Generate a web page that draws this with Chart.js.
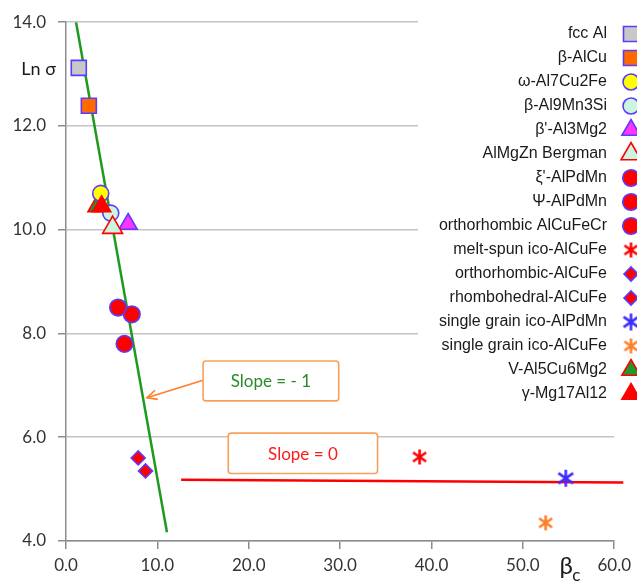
<!DOCTYPE html>
<html>
<head>
<meta charset="utf-8">
<script src="https://cdn.jsdelivr.net/npm/chart.js@4/dist/chart.umd.min.js"></script>
<style>
  html, body { margin: 0; padding: 0; background: #fff; }
  #wrap { width: 637px; height: 585px; }
</style>
</head>
<body>
<div id="wrap"><canvas id="chart" width="637" height="585"></canvas></div>
<script>
// datos
const seriesNames = [
  "fcc Al", "β-AlCu", "ω-Al7Cu2Fe", "β-Al9Mn3Si", "β'-Al3Mg2", "AlMgZn Bergman",
  "ξ'-AlPdMn", "Ψ-AlPdMn", "orthorhombic AlCuFeCr", "melt-spun ico-AlCuFe",
  "orthorhombic-AlCuFe", "rhombohedral-AlCuFe", "single grain ico-AlPdMn",
  "single grain ico-AlCuFe", "V-Al5Cu6Mg2", "γ-Mg17Al12"
];
const betaC   = [1.4, 2.5, 3.8, 4.9, 6.8, 5.1, 5.7, 7.2, 6.4, 38.7, 7.9, 8.7, 54.7, 52.5, 3.4, 3.9];
const lnSigma = [13.12, 12.39, 10.7, 10.32, 10.11, 10.04, 8.5, 8.37, 7.8, 5.62, 5.6, 5.35, 5.21, 4.35, 10.45, 10.45];

// rectas de pendiente
const slopeMinusOneX = [1.1, 11.05];
const slopeMinusOneY = [14.0, 4.17];
const slopeZeroX = [12.6, 61.0];
const slopeZeroY = [5.18, 5.13];

// ticks
const xTicks = [0, 10, 20, 30, 40, 50, 60];
const yTicks = [4, 6, 8, 10, 12, 14];

// cuadros de texto
const boxTexts = ["Slope = - 1", "Slope = 0"];
const boxX = [[15.0, 29.85], [17.76, 34.1]];
const boxY = [[7.47, 6.70], [6.08, 5.30]];
const arrowX = [15.0, 8.86];
const arrowY = [7.10, 6.76];

// ---- estilos ----
const BLUE = "#5a3cff";
function asterisco(color, size) {
  const c = document.createElement("canvas");
  c.width = size + 4; c.height = size + 4;
  const g = c.getContext("2d");
  const m = c.width / 2, h = size / 2;
  g.strokeStyle = color; g.lineWidth = 2.6; g.lineCap = "butt";
  g.beginPath();
  g.moveTo(m, m - h); g.lineTo(m, m + h);
  g.moveTo(m - h * 0.87, m - h * 0.6); g.lineTo(m + h * 0.87, m + h * 0.6);
  g.moveTo(m - h * 0.87, m + h * 0.6); g.lineTo(m + h * 0.87, m - h * 0.6);
  g.stroke();
  return c;
}
const estilos = [
  { shape: "rect", fill: "#c8c8c8", edge: BLUE, r: 10.6 },
  { shape: "rect", fill: "#ff6a00", edge: BLUE, r: 10.6 },
  { shape: "circle", fill: "#ffff00", edge: BLUE, r: 8 },
  { shape: "circle", fill: "#ccf5e0", edge: BLUE, r: 8 },
  { shape: "triangle", fill: "#ff33ff", edge: BLUE, r: 10.5 },
  { shape: "triangle", fill: "#ccf5e0", edge: "#ff0000", r: 11.5, order: -1 },
  { shape: "circle", fill: "#ff0000", edge: BLUE, r: 8.3 },
  { shape: "circle", fill: "#ff0000", edge: BLUE, r: 8.3 },
  { shape: "circle", fill: "#ff0000", edge: BLUE, r: 8.3 },
  { shape: asterisco("#ff0000", 15), fill: "#ff0000", edge: "#ff0000", r: 8 },
  { shape: "rectRot", fill: "#ff0000", edge: BLUE, r: 7 },
  { shape: "rectRot", fill: "#ff0000", edge: BLUE, r: 7 },
  { shape: asterisco("#3d2bff", 17), fill: "#3d2bff", edge: "#3d2bff", r: 8 },
  { shape: asterisco("#ff7f27", 15), fill: "#ff7f27", edge: "#ff7f27", r: 8 },
  { shape: "triangle", fill: "#1e9a2a", edge: "#ff0000", r: 10.5 },
  { shape: "triangle", fill: "#ff0000", edge: "#ff0000", r: 10.5, order: -2 },
];

const datasets = [];
seriesNames.forEach((n, i) => {
  const e = estilos[i];
  datasets.push({
    label: n,
    data: [{ x: betaC[i], y: lnSigma[i] }],
    pointStyle: e.shape,
    pointRadius: e.r,
    pointBackgroundColor: e.fill,
    pointBorderColor: e.edge,
    pointBorderWidth: 1.6,
    showLine: false,
    order: e.order || 0,
  });
});
datasets.push({
  label: "slope -1",
  data: slopeMinusOneX.map((x, i) => ({ x: x, y: slopeMinusOneY[i] })),
  showLine: true, borderColor: "#1f9a1f", borderWidth: 2.5, pointRadius: 0, order: 10,
});
datasets.push({
  label: "slope 0",
  data: slopeZeroX.map((x, i) => ({ x: x, y: slopeZeroY[i] })),
  showLine: true, borderColor: "#ff0000", borderWidth: 2.5, pointRadius: 0, order: 10, clip: false,
});

// plugin para leyenda, cuadros, flecha y titulos
const extras = {
  id: "extras",
  afterDatasetsDraw(chart) {
    const ctx = chart.ctx;
    const xs = chart.scales.x, ys = chart.scales.y;
    const px = (v) => xs.getPixelForValue(v);
    const py = (v) => ys.getPixelForValue(v);
    ctx.save();

    // flecha
    ctx.strokeStyle = "#ff7f27"; ctx.lineWidth = 1.6;
    const ax0 = px(arrowX[0]), ay0 = py(arrowY[0]), ax1 = px(arrowX[1]), ay1 = py(arrowY[1]);
    ctx.beginPath(); ctx.moveTo(ax0, ay0); ctx.lineTo(ax1, ay1); ctx.stroke();
    const ang = Math.atan2(ay1 - ay0, ax1 - ax0);
    ctx.beginPath();
    ctx.moveTo(ax1 - 11 * Math.cos(ang - 0.45), ay1 - 11 * Math.sin(ang - 0.45));
    ctx.lineTo(ax1, ay1);
    ctx.lineTo(ax1 - 11 * Math.cos(ang + 0.45), ay1 - 11 * Math.sin(ang + 0.45));
    ctx.stroke();

    // cuadros de pendiente
    const colores = ["#2a8a2a", "#ff1a1a"];
    boxTexts.forEach((t, i) => {
      const x0 = px(boxX[i][0]), x1 = px(boxX[i][1]);
      const y0 = py(boxY[i][0]), y1 = py(boxY[i][1]);
      ctx.fillStyle = "#fff";
      ctx.fillRect(x0, y0, x1 - x0, y1 - y0);
      ctx.strokeStyle = "#f8a05a"; ctx.lineWidth = 1.6;
      ctx.beginPath(); ctx.roundRect(x0, y0, x1 - x0, y1 - y0, 3); ctx.stroke();
      ctx.fillStyle = colores[i];
      ctx.font = "17px Lato";
      ctx.textAlign = "center"; ctx.textBaseline = "middle";
      ctx.fillText(t, (x0 + x1) / 2, (y0 + y1) / 2 + 1);
    });

    // leyenda
    ctx.fillStyle = "#fff";
    ctx.fillRect(418, 8, 219, 398);
    ctx.font = "16px 'Liberation Sans'";
    ctx.textAlign = "right"; ctx.textBaseline = "middle";
    seriesNames.forEach((n, i) => {
      const y = 34 + i * 24;
      ctx.fillStyle = "#1a1a1a";
      ctx.fillText(n, 607, y);
      const e = estilos[i];
      ctx.fillStyle = e.fill; ctx.strokeStyle = e.edge; ctx.lineWidth = 1.6;
      Chart.helpers.drawPoint(ctx, { pointStyle: e.shape, radius: e.r, borderWidth: 1.6, rotation: 0 }, 631, y);
    });

    // titulos de ejes
    ctx.fillStyle = "#1a1a1a";
    ctx.font = "18px Lato";
    ctx.textAlign = "right"; ctx.textBaseline = "middle";
    ctx.fillText("Ln σ", chart.chartArea.left - 10, py(13.1));
    ctx.textAlign = "left"; ctx.textBaseline = "alphabetic";
    ctx.font = "24px Lato";
    ctx.fillText("β", px(54.0), chart.chartArea.bottom + 33);
    ctx.font = "17px Lato";
    ctx.fillText("c", px(55.4), chart.chartArea.bottom + 40);
    ctx.restore();
  },
};

new Chart(document.getElementById("chart"), {
  type: "scatter",
  data: { datasets: datasets },
  options: {
    responsive: false,
    animation: false,
    layout: { padding: { top: 16, right: 20, left: 0, bottom: 0 } },
    plugins: { legend: { display: false }, tooltip: { enabled: false } },
    scales: {
      x: {
        type: "linear", min: 0, max: 60,
        afterBuildTicks: (s) => { s.ticks = xTicks.map((v) => ({ value: v })); },
        afterFit: (s) => { s.height = 44; },
        ticks: { callback: (v) => v.toFixed(1), color: "#333", font: { family: "Lato", size: 17 }, padding: 6, maxRotation: 0 },
        grid: { drawOnChartArea: false, color: "#8c8c8c", tickLength: 8, lineWidth: 1.5 },
        border: { color: "#8c8c8c", width: 1.5 },
      },
      y: {
        type: "linear", min: 4, max: 14,
        afterBuildTicks: (s) => { s.ticks = yTicks.map((v) => ({ value: v })); },
        afterFit: (s) => { s.width = 66; },
        ticks: { callback: (v) => v.toFixed(1), color: "#333", font: { family: "Lato", size: 17 }, padding: 12 },
        grid: { color: "#c4c4c4", tickColor: "#8c8c8c", tickLength: 8, lineWidth: 1.5 },
        border: { color: "#8c8c8c", width: 1.5 },
      },
    },
  },
  plugins: [extras],
});
</script>
</body>
</html>
